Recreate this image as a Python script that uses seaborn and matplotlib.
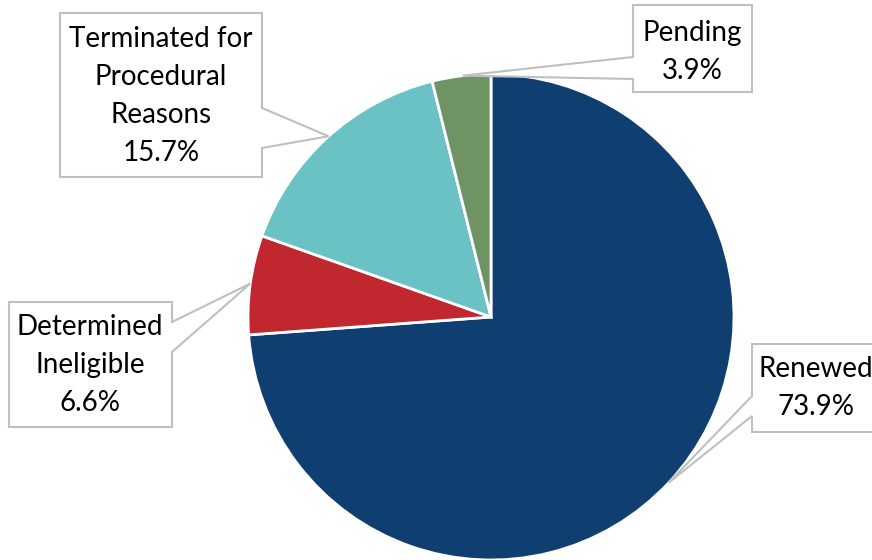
import numpy as np
import matplotlib.pyplot as plt
import seaborn as sns
from matplotlib.patches import Polygon

# data
labels = ["Renewed", "Determined\nIneligible", "Terminated for\nProcedural\nReasons", "Pending"]
shares = [73.9, 6.6, 15.7, 3.9]
colors = ["#0F3E70", "#C1272F", "#6AC2C5", "#6F9463"]

sns.set_theme(style="white")
plt.rcParams["font.family"] = ["Lato", "DejaVu Sans"]

W, H = 872, 560
fig = plt.figure(figsize=(W / 100, H / 100), dpi=100)
ax = fig.add_axes([0, 0, 1, 1])

cx, cy, r = 491, 317, 243  # pie centre / radius in pixels (top-down y)

ax.pie(shares, colors=colors, startangle=90, counterclock=False,
       center=(cx, H - cy), radius=r,
       wedgeprops=dict(edgecolor="white", linewidth=2))
ax.set_xlim(0, W)
ax.set_ylim(0, H)
ax.set_aspect("equal")
ax.axis("off")

# callout boxes: (x0, y0, x1, y1), pointer side, pointer base, text centre
boxes = [
    ((752, 344, 885, 432), "left", (396, 416), (816, 388)),
    ((9, 302, 172, 427), "right", (322, 352), (90, 365)),
    ((60, 13, 262, 177), "right", (108, 148), (161, 96)),
    ((633, 5, 752, 92), "left", (57, 79), (692, 52)),
]

# mid angle of each wedge for the pointer tip
ends = 90 - np.cumsum([0] + shares) * 3.6
mids = (ends[:-1] + ends[1:]) / 2

def P(x, y):
    return (x, H - y)

for lab, val, mid, (b, side, (ya, yb), (tx, ty)) in zip(labels, shares, mids, boxes):
    x0, y0, x1, y1 = b
    tip = (cx + r * np.cos(np.radians(mid)), cy - r * np.sin(np.radians(mid)))
    if side == "right":
        pts = [(x0, y0), (x1, y0), (x1, ya), tip, (x1, yb), (x1, y1), (x0, y1)]
    else:
        pts = [(x0, y0), (x1, y0), (x1, y1), (x0, y1), (x0, yb), tip, (x0, ya)]
    ax.add_patch(Polygon([P(*p) for p in pts], closed=True, facecolor="white",
                         edgecolor="#BFBFBF", linewidth=1.5, zorder=5))
    ax.text(*P(tx, ty), f"{lab}\n{val:.1f}%", ha="center", va="center",
            fontsize=20, linespacing=1.58, color="black", zorder=6)

fig.savefig("out.png", dpi=100)
